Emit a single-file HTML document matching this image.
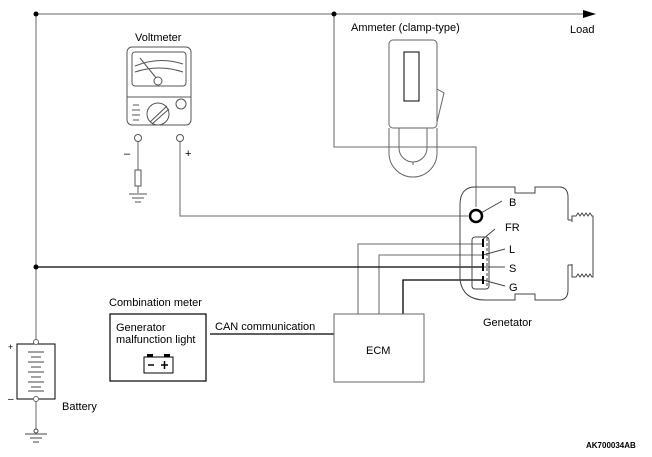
<!DOCTYPE html>
<html><head><style>body{margin:0;background:#fff}svg{display:block}text{font-family:"Liberation Sans",sans-serif;font-size:11px;fill:#000}</style></head>
<body>
<svg width="652" height="457" viewBox="0 0 652 457" xmlns="http://www.w3.org/2000/svg">
<g fill="none" stroke="#888" stroke-width="1.3">
<polyline points="36,343 36,14 583,14"/>
<polyline points="334,14 334,147 476,147 476,207"/>
<polyline points="180,139 180,216 468,216"/>
<line x1="138" y1="139" x2="138" y2="170"/>
<line x1="138" y1="186" x2="138" y2="193"/>
<polyline points="358,314 358,244 483,244"/>
<polyline points="379,314 379,255 483,255"/>
<line x1="210" y1="334" x2="334" y2="334" stroke="#000"/>
<line x1="36" y1="398" x2="36" y2="432"/>
</g>
<polygon points="583,10 596,14 583,18" fill="#000"/>
<circle cx="36" cy="14" r="2.5" fill="#000"/><circle cx="334" cy="14" r="2.5" fill="#000"/><circle cx="36" cy="267" r="2.5" fill="#000"/>
<g fill="none" stroke="#000" stroke-width="1.3">
<line x1="36" y1="267" x2="483" y2="267"/>
<polyline points="403,314 403,280 483,280"/>
</g>
<text x="570" y="33">Load</text>
<text x="351" y="31">Ammeter (clamp-type)</text>
<text x="135" y="41">Voltmeter</text>
<g fill="none" stroke="#555" stroke-width="1">
<rect x="127" y="47" width="64" height="78" rx="5"/>
<rect x="132" y="52" width="54" height="34" rx="3"/>
<path d="M135,66 Q159,56 183,64 M135,72 Q159,64 183,72"/>
<line x1="140" y1="58" x2="157" y2="79"/>
<circle cx="158" cy="81" r="4" fill="#fff"/>
<line x1="127" y1="97" x2="191" y2="97"/>
<circle cx="158" cy="114" r="11"/>
<line x1="150" y1="122" x2="167" y2="106"/><line x1="152" y1="124" x2="169" y2="109"/>
<circle cx="181" cy="104" r="5"/>
<circle cx="138" cy="138" r="3.5" fill="#fff"/><circle cx="180" cy="138" r="3.5" fill="#fff"/>
<path d="M133,105 h6 M132,110 h8 M132,115 h8 M133,120 h6"/>
<rect x="135" y="170" width="6" height="16"/>
<path d="M129,194 h18 M132,198 h12 M135,202 h6"/>
</g>
<text x="124" y="157">–</text><text x="185" y="157">+</text>
<g fill="none" stroke="#666" stroke-width="1">
<rect x="389" y="40" width="48" height="88" rx="4"/>
<rect x="404" y="52" width="15" height="49" stroke="#000"/>
<polyline points="437,89 444,93 437,122"/>
<path d="M389,128 v25 a24,24 0 0 0 48,0 v-25"/>
<path d="M399,128 v20 a14,14 0 0 0 28,0 v-20"/>
<line x1="413" y1="162" x2="413" y2="165"/>
</g>
<g fill="none" stroke="#444" stroke-width="1">
<path d="M568,220 V197 q0,-10 -9,-10 L535,187 v6 h-20 v-6 L475,187 q-15,0 -15,18 L460,280 q3,20 25,20 L515,300 v-6 h20 v6 L559,300 q9,0 9,-10 V265"/>
<path d="M568,220 h4 M568,265 h4"/>
<path d="M572,222 v-6 h4 l2,-3 l2,3 l2,-3 l2,3 l2,-3 l2,3 l2,-3 l2,3 h1 v61 h-1 l-2,-3 l-2,3 l-2,-3 l-2,3 l-2,-3 l-2,3 l-2,-3 l-2,3 h-4 v-13"/>
<rect x="472" y="237" width="17" height="52" rx="3"/>
<line x1="487" y1="238" x2="487" y2="288" stroke-dasharray="3,2"/>
<line x1="483" y1="239" x2="495" y2="229"/><line x1="483" y1="255" x2="505" y2="249"/>
<line x1="483" y1="267" x2="505" y2="267"/><line x1="483" y1="280" x2="505" y2="286"/>
<line x1="481" y1="213" x2="502" y2="201"/>
</g>
<g stroke="#000" stroke-width="2"><path d="M483,239v8 M483,251v8 M483,263v8 M483,276v8"/></g>
<circle cx="476" cy="216" r="6" fill="#fff" stroke="#000" stroke-width="2.5"/>
<text x="509" y="206">B</text><text x="505" y="231">FR</text><text x="509" y="253">L</text><text x="509" y="272">S</text><text x="509" y="291">G</text>
<text x="483" y="326">Genetator</text>
<rect x="334" y="314" width="90" height="68" fill="none" stroke="#666"/>
<text x="366" y="354">ECM</text>
<text x="215" y="330">CAN communication</text>
<text x="109" y="306">Combination meter</text>
<rect x="110" y="314" width="96" height="67" fill="none" stroke="#000" stroke-width="1.2"/>
<text x="116" y="331">Generator</text><text x="116" y="343">malfunction light</text>
<rect x="144" y="357" width="29" height="16" fill="none" stroke="#000"/>
<rect x="147" y="354" width="6" height="3" fill="#000"/><rect x="164" y="354" width="6" height="3" fill="#000"/>
<path d="M148,365h6 M161,365h7 M164.5,361v8" stroke="#000" stroke-width="1.5"/>
<rect x="17" y="344" width="38" height="55" fill="none" stroke="#000"/>
<circle cx="36" cy="342" r="2.5" fill="#fff" stroke="#666"/><circle cx="36" cy="399" r="2.5" fill="#fff" stroke="#666"/>
<g stroke="#444"><path d="M28,352h16 M31,357h10 M28,362h16 M31,367h10 M28,372h16 M31,377h10 M28,382h16 M31,387h10 M28,391h16"/>
<path d="M25,434h22 M30,438h12 M33,442h6"/></g>
<circle cx="36" cy="431" r="2" fill="#fff" stroke="#444"/>
<text x="8" y="350" style="font-size:9px">+</text><text x="8" y="402" style="font-size:10px">–</text>
<text x="62" y="410">Battery</text>
<text x="586" y="448" style="font-size:8px;font-weight:bold">AK700034AB</text>
</svg>
</body></html>
